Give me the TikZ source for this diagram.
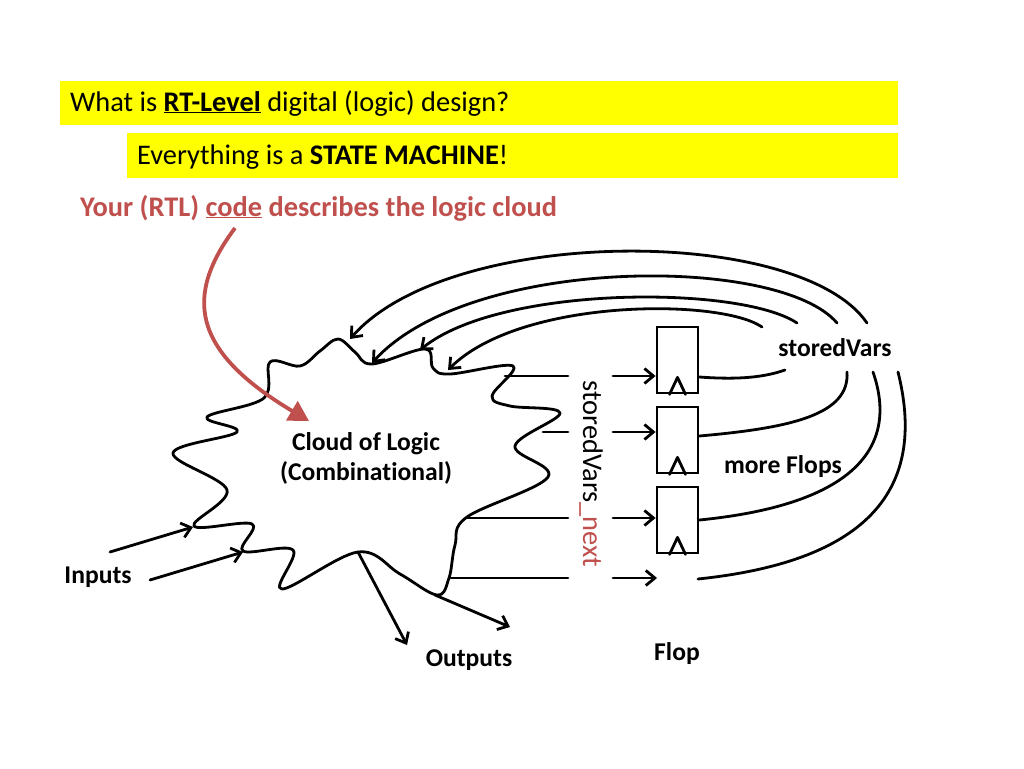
\documentclass[tikz,border=0pt]{standalone}
\usepackage{fontspec}
\setmainfont{Carlito}[Ligatures=NoCommon]
\usetikzlibrary{arrows.meta}
\definecolor{redc}{HTML}{C0504D}
\definecolor{yel}{HTML}{FFFF00}
\begin{document}
\begin{tikzpicture}[x=1pt,y=-1pt,
  ln/.style={line width=2.8pt, line cap=round, line join=round},
  arr/.style={ln,-{Straight Barb[length=9pt,width=15pt,line width=2.8pt]}},
  lbl/.style={font=\fontsize{25.6}{30}\selectfont\bfseries, inner sep=0pt},
  big/.style={font=\fontsize{28.4}{34}\selectfont, inner sep=0pt},
  flopbox/.style={draw, line width=2.8pt, minimum width=41pt, minimum height=66pt, inner sep=0pt}
]
\useasboundingbox (0,0) rectangle (1024,768);
\fill[white] (0,0) rectangle (1024,768);

% banners
\fill[yel] (60,81) rectangle (898,125);
\fill[yel] (127,133) rectangle (898,178);
\node[big, anchor=base west] (t1) at (70,111) {What is \textbf{\underline{RT-Level}} digital (logic) design?};
\node[big, anchor=base west] (t2) at (137,164) {Everything is a \textbf{STATE MACHINE}!};
\node[big, anchor=base west, text=redc, font=\fontsize{28.4}{34}\selectfont\bfseries] (t3) at (80,216) {Your (RTL) \underline{code} describes the logic cloud};

% cloud
\draw[ln] plot[smooth cycle, tension=0.6] coordinates {
 (338,339) (355,352) (372,364) (425,349) (433,368) (450,374) (513,366)
 (492,396) (510,406) (560,413) (515,446) (548,477) (467,517) (455,545)
 (449,578) (437,595) (400,574) (358,552) (282,589) (293,550) (243,551)
 (252,524) (194,526) (227,490) (173,453) (237,432) (207,417) (264,398)
 (270,362) (300,366) (320,351)};
\node[lbl, align=center] (cloud) at (366,458) {Cloud of Logic\\(Combinational)};

% red arrow
\coordinate (codept) at (235,228);
\coordinate (redtip) at (309,421);
\draw[redc, line width=3.8pt, -{Triangle[length=20pt,width=22pt]}] (codept) .. controls (185,295) and (190,350) .. (redtip);

% cloud contact points
\coordinate (c1) at (350,339);
\coordinate (c2) at (372,363);
\coordinate (c3) at (420,350);
\coordinate (c4) at (448,370);
\coordinate (ci1) at (193,527);
\coordinate (ci2) at (243,552);
\coordinate (co1) at (358,552);
\coordinate (co2) at (435,595);

% flops
\node[flopbox] (f1) at (677.5,360) {};
\node[flopbox] (f2) at (677.5,440) {};
\node[flopbox] (f3) at (677.5,520) {};
\foreach \f in {f1,f2,f3}{
  \draw[ln] ([xshift=-8pt]\f.south) -- ([yshift=17pt]\f.south) -- ([xshift=8pt]\f.south);
}
\coordinate (f4) at (657,578);
\coordinate (f4o) at (698,579);

% storedVars_next lines
\coordinate (s1) at (505,376); \coordinate (g1a) at (568,376); \coordinate (g1b) at (613,376);
\coordinate (s2) at (543,432); \coordinate (g2a) at (568,432); \coordinate (g2b) at (613,432);
\coordinate (s3) at (467,518); \coordinate (g3a) at (568,518); \coordinate (g3b) at (613,518);
\coordinate (s4) at (450,578); \coordinate (g4a) at (568,578); \coordinate (g4b) at (613,578);
\draw[ln] (s1) -- (g1a);
\draw[ln] (s2) -- (g2a);
\draw[ln] (s3) -- (g3a);
\draw[ln] (s4) -- (g4a);
\draw[arr] (g1b) -- (g1b -| f1.west);
\draw[arr] (g2b) -- (g2b -| f2.west);
\draw[arr] (g3b) -- (g3b -| f3.west);
\draw[arr] (g4b) -- (f4);
\node[font=\fontsize{28.4}{34}\selectfont, inner sep=0pt, rotate=-90] (svn) at (591,474) {storedVars\textcolor{redc}{\_next}};

% flop outputs
\coordinate (e1) at (785,370);
\coordinate (e2) at (847,372);
\coordinate (e3) at (873,372);
\coordinate (e4) at (898,372);
\draw[ln] ([yshift=-17pt]f1.east) .. controls (740,380) and (765,377) .. (e1);
\draw[ln] ([yshift=4pt]f2.east) .. controls (790,428) and (850,415) .. (e2);
\draw[ln] (f3.east) .. controls (850,505) and (900,450) .. (e3);
\draw[ln] (f4o) .. controls (880,560) and (925,480) .. (e4);

% feedback arcs
\coordinate (a1) at (867,323);
\coordinate (a2) at (837,323);
\coordinate (a3) at (797,323);
\coordinate (a4) at (762,327);
\draw[arr] (a1) .. controls (800,225) and (450,225) .. (c1);
\draw[arr] (a2) .. controls (780,255) and (470,255) .. (c2);
\draw[arr] (a3) .. controls (740,285) and (500,285) .. (c3);
\draw[arr] (a4) .. controls (720,298) and (520,298) .. (c4);

% inputs / outputs
\coordinate (in1) at (110,552);
\coordinate (in2) at (150,580);
\draw[arr] (in1) -- (ci1);
\draw[arr] (in2) -- (ci2);
\coordinate (out1) at (407,645);
\coordinate (out2) at (510,627);
\draw[arr] (co1) -- (out1);
\draw[arr] (co2) -- (out2);

% labels
\node[lbl] (inputs) at (98,577) {Inputs};
\node[lbl] (outputs) at (469,660) {Outputs};
\node[lbl] (flop) at (677,654) {Flop};
\node[lbl] (more) at (783,467) {more Flops};
\node[lbl] (sv) at (835,348) {storedVars};
\end{tikzpicture}
\end{document}
